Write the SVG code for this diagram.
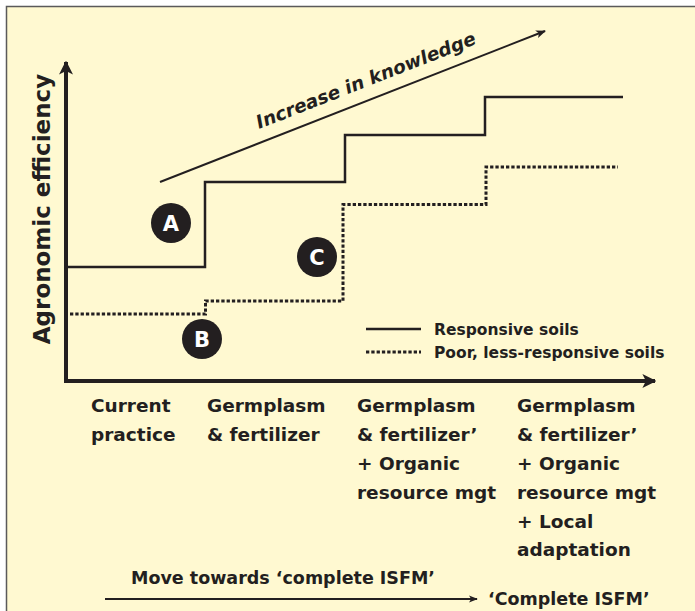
<svg xmlns="http://www.w3.org/2000/svg" width="695" height="611" viewBox="0 0 695 611">
  <style>
    .t { font-family: "DejaVu Sans", "Liberation Sans", sans-serif; font-weight: bold; fill: #231F20; }
    .cat { font-size: 18.5px; }
    .leg { font-size: 15.5px; }
    .solid { fill: none; stroke: #231F20; stroke-width: 2.5; }
    .dot { fill: none; stroke: #231F20; stroke-width: 3; stroke-dasharray: 3.3 2; }
    .badge circle { fill: #231F20; }
    .badge text { font-family: "DejaVu Sans", "Liberation Sans", sans-serif; font-weight: bold; font-size: 21px; fill: #ffffff; text-anchor: middle; }
  </style>
  <defs>
    <marker id="big" viewBox="0 0 10 10" refX="9" refY="5" markerWidth="3.5" markerHeight="3.5" orient="auto" markerUnits="strokeWidth">
      <path d="M0,0 L10,5 L0,10 L2.5,5 Z" fill="#231F20"/>
    </marker>
    <marker id="small" viewBox="0 0 10 10" refX="9" refY="5" markerWidth="5" markerHeight="5" orient="auto" markerUnits="strokeWidth">
      <path d="M0,1 L10,5 L0,9 L2.5,5 Z" fill="#231F20"/>
    </marker>
  </defs>
  <rect x="0" y="0" width="695" height="611" fill="#ffffff"/>
  <rect x="6" y="6" width="689" height="605" fill="#FFF9D1"/>
  <path d="M6.5,611 V6.5 H695" fill="none" stroke="#5a5a5a" stroke-width="1.5"/>

  <g id="axes">
    <line x1="66" y1="383" x2="66" y2="62" stroke="#231F20" stroke-width="4" marker-end="url(#big)"/>
    <line x1="64" y1="381" x2="655" y2="381" stroke="#231F20" stroke-width="4" marker-end="url(#big)"/>
    <text class="t" font-size="23" transform="translate(50,209) rotate(-90)" text-anchor="middle">Agronomic efficiency</text>
  </g>

  <g id="connectors">
    <line x1="160" y1="182" x2="545" y2="31" stroke="#231F20" stroke-width="2" marker-end="url(#small)"/>
    <path class="solid" d="M66,267 H205 V182 H345 V135 H485 V97 H623"/>
    <path class="dot" d="M70,314 H205.5 V301 H343 V204.5 H486 V167 H618"/>
    <line x1="105" y1="599" x2="477" y2="599" stroke="#231F20" stroke-width="1.8" marker-end="url(#small)"/>
  </g>

  <g id="knowledge">
    <text class="t" font-size="18.5" font-style="italic" transform="translate(259,129) rotate(-21.4)">Increase in knowledge</text>
  </g>

  <g id="nodeA" class="badge"><circle cx="171" cy="223" r="20"/><text x="171" y="230.5">A</text></g>
  <g id="nodeB" class="badge"><circle cx="202" cy="339" r="20"/><text x="202" y="346.5">B</text></g>
  <g id="nodeC" class="badge"><circle cx="317" cy="257" r="20"/><text x="317" y="264.5">C</text></g>

  <g id="legend">
    <line x1="366" y1="329" x2="421" y2="329" stroke="#231F20" stroke-width="2.5"/>
    <line x1="366" y1="352" x2="421" y2="352" class="dot"/>
    <text class="t leg" x="434" y="335">Responsive soils</text>
    <text class="t leg" x="434" y="358">Poor, less-responsive soils</text>
  </g>

  <g id="cat1">
    <text class="t cat" x="91" y="412">Current</text>
    <text class="t cat" x="91" y="441">practice</text>
  </g>
  <g id="cat2">
    <text class="t cat" x="207" y="412">Germplasm</text>
    <text class="t cat" x="207" y="441">&amp; fertilizer</text>
  </g>
  <g id="cat3">
    <text class="t cat" x="357" y="412">Germplasm</text>
    <text class="t cat" x="357" y="441">&amp; fertilizer’</text>
    <text class="t cat" x="357" y="470">+ Organic</text>
    <text class="t cat" x="357" y="499">resource mgt</text>
  </g>
  <g id="cat4">
    <text class="t cat" x="517" y="412">Germplasm</text>
    <text class="t cat" x="517" y="441">&amp; fertilizer’</text>
    <text class="t cat" x="517" y="470">+ Organic</text>
    <text class="t cat" x="517" y="499">resource mgt</text>
    <text class="t cat" x="517" y="528">+ Local</text>
    <text class="t cat" x="517" y="556">adaptation</text>
  </g>

  <g id="isfm">
    <text class="t" font-size="17.5" x="131" y="584">Move towards ‘complete ISFM’</text>
    <text class="t" font-size="17.5" x="488" y="605">‘Complete ISFM’</text>
  </g>
</svg>
